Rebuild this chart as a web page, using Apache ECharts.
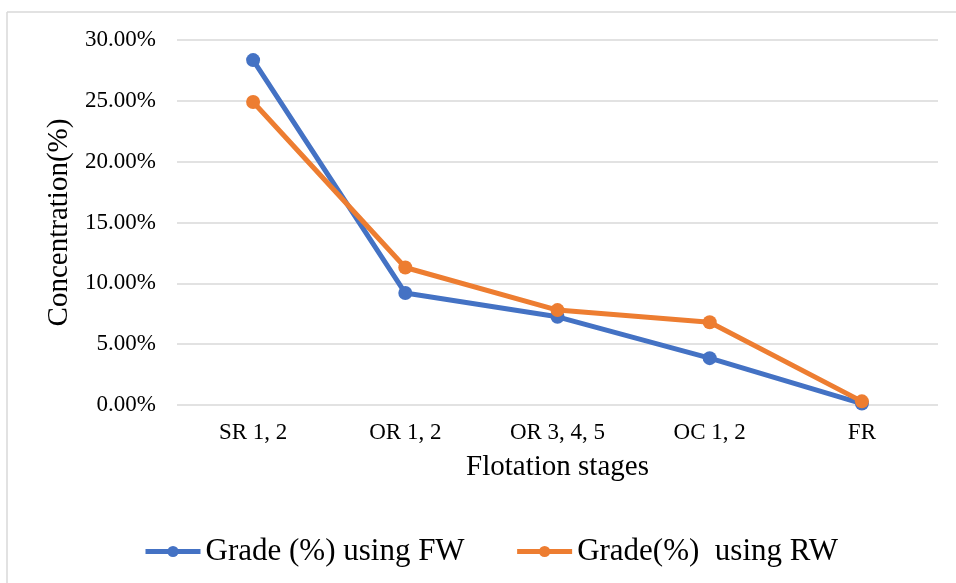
<!DOCTYPE html>
<html>
<head>
<meta charset="utf-8">
<script src="https://cdn.jsdelivr.net/npm/echarts@6/dist/echarts.min.js"></script>
<style>
	html, body { margin: 0; padding: 0; background: #fff; }
	#main { width: 956px; height: 583px; }
</style>
</head>
<body>
<div id="main"></div>
<script>
// 数据
var stages = ['SR 1, 2', 'OR 1, 2', 'OR 3, 4, 5', 'OC 1, 2', 'FR'];
var gradeFW = [28.35, 9.2, 7.25, 3.85, 0.12];
var gradeRW = [24.9, 11.3, 7.8, 6.8, 0.3];
var seriesNames = ['Grade (%) using FW', 'Grade(%)  using RW'];

var font = '"Liberation Serif", "Times New Roman", serif';

function lineChart() {
	var myChart = echarts.init(document.getElementById('main'));
	option = {
		animation: false,
		color: ['#4472C4', '#ED7D31'],
		grid: {
			left: 177,
			right: 18,
			top: 40,
			bottom: 178
		},
		graphic: [{
			type: 'line',
			shape: { x1: 7, y1: 12, x2: 956, y2: 12 },
			style: { stroke: '#d9d9d9', lineWidth: 1.5 }
		}, {
			type: 'line',
			shape: { x1: 7, y1: 12, x2: 7, y2: 583 },
			style: { stroke: '#d9d9d9', lineWidth: 1.5 }
		}], //外框
		legend: {
			left: 138,
			top: 531,
			itemWidth: 55,
			itemHeight: 14,
			itemGap: 50,
			lineStyle: { width: 5 },
			textStyle: {
				fontFamily: font,
				fontSize: 31,
				color: '#000'
			},
			data: seriesNames
		},
		xAxis: {
			type: 'category',
			data: stages,
			name: 'Flotation stages',
			nameLocation: 'middle',
			nameGap: 48,
			nameTextStyle: {
				fontFamily: font,
				fontSize: 29,
				color: '#000'
			},
			axisLine: { show: false },
			axisTick: { show: false },
			axisLabel: {
				margin: 16,
				fontFamily: font,
				fontSize: 23,
				color: '#000'
			}
		},
		yAxis: {
			type: 'value',
			min: 0,
			max: 30,
			interval: 5,
			name: 'Concentration(%)',
			nameLocation: 'middle',
			nameGap: 100,
			nameTextStyle: {
				fontFamily: font,
				fontSize: 29,
				color: '#000'
			},
			axisLabel: {
				margin: 21,
				fontFamily: font,
				fontSize: 23,
				color: '#000',
				formatter: function (v) { return v.toFixed(2) + '%'; }
			},
			splitLine: {
				lineStyle: { color: '#d9d9d9', width: 1.5 }
			}
		},
		series: [{
			name: seriesNames[0],
			type: 'line',
			data: gradeFW,
			symbol: 'circle',
			symbolSize: 14,
			lineStyle: { width: 5 }
		}, {
			name: seriesNames[1],
			type: 'line',
			data: gradeRW,
			symbol: 'circle',
			symbolSize: 14,
			lineStyle: { width: 5 }
		}]
	};
	myChart.setOption(option);
}
lineChart();
</script>
</body>
</html>
